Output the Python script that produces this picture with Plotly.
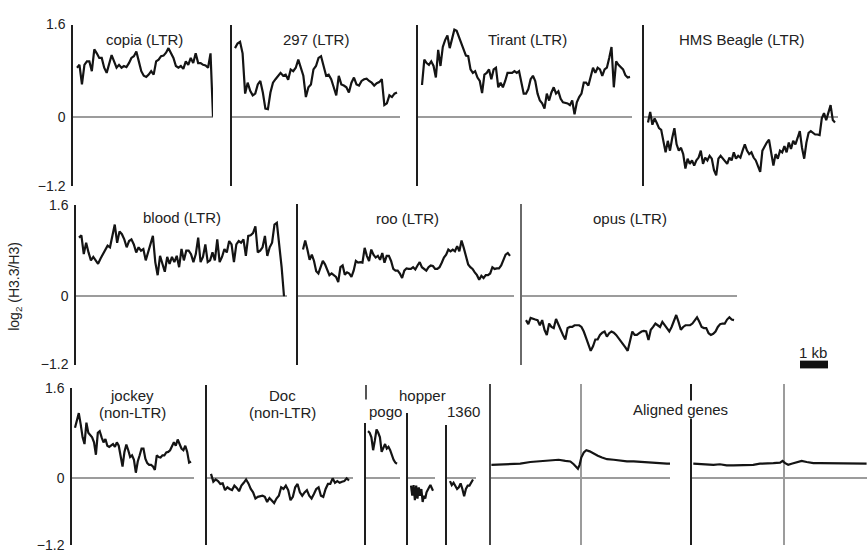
import plotly.graph_objects as go

W, H = 867, 560

# ---- log2(H3.3/H3) profiles along each transposable element (evenly spaced bins) ----
copia = [0.85, 0.90, 0.56, 0.90, 0.96, 0.96, 0.79, 1.17, 1.10, 1.02, 1.02, 0.85, 0.76, 0.90,
         1.07, 0.96, 0.85, 0.90, 0.85, 0.88, 0.86, 0.93, 1.02, 1.05, 1.13, 0.96, 0.79, 0.71,
         0.69, 0.73, 0.79, 0.73, 0.96, 0.99, 1.05, 1.06, 1.11, 1.19, 1.10, 1.02, 0.88, 0.85,
         0.88, 0.83, 0.96, 0.90, 1.02, 0.93, 1.10, 0.93, 0.93, 0.90, 0.89, 0.85, 1.10, 0.0]

el_297 = [1.19, 1.27, 1.30, 1.10, 0.40, 0.59, 0.45, 0.37, 0.40, 0.56, 0.62, 0.42, 0.14, 0.13,
          0.42, 0.59, 0.65, 0.71, 0.76, 0.71, 0.73, 0.64, 0.82, 0.79, 0.85, 0.99, 0.85, 0.71,
          0.34, 0.51, 0.56, 0.82, 0.88, 1.02, 1.05, 0.88, 0.71, 0.73, 0.65, 0.51, 0.37, 0.71,
          0.56, 0.54, 0.51, 0.42, 0.59, 0.68, 0.56, 0.54, 0.62, 0.65, 0.66, 0.62, 0.59, 0.54,
          0.58, 0.60, 0.65, 0.20, 0.23, 0.37, 0.34, 0.40, 0.42]

tirant = [0.55, 0.99, 0.93, 0.90, 0.96, 0.88, 0.68, 1.16, 0.88, 1.21, 1.33, 1.41, 1.19, 1.36,
          1.51, 1.49, 1.38, 1.30, 1.16, 1.06, 1.05, 0.82, 0.76, 0.79, 0.68, 0.62, 0.41, 0.73,
          0.76, 0.82, 0.65, 0.82, 0.85, 0.51, 0.59, 0.51, 0.62, 0.76, 0.76, 0.76, 0.79, 0.76,
          0.79, 0.59, 0.40, 0.40, 0.48, 0.65, 0.71, 0.62, 0.40, 0.28, 0.23, 0.14, 0.40, 0.28,
          0.42, 0.51, 0.40, 0.44, 0.31, 0.25, 0.24, 0.23, 0.20, 0.28, 0.04, 0.25, 0.34, 0.40,
          0.59, 0.59, 0.54, 0.68, 0.85, 0.76, 0.85, 0.82, 0.71, 0.82, 0.85, 1.02, 1.21, 0.51,
          0.96, 0.90, 0.85, 0.82, 0.72, 0.68, 0.69]

hms_beagle = [-0.10, 0.08, -0.14, -0.03, -0.11, -0.20, -0.23, -0.42, -0.62, -0.42, -0.59,
              -0.37, -0.20, -0.48, -0.59, -0.54, -0.65, -0.90, -0.73, -0.82, -0.76, -0.85,
              -0.76, -0.71, -0.59, -0.82, -0.71, -0.76, -0.68, -0.73, -0.93, -1.02, -0.73,
              -0.68, -0.73, -0.76, -0.82, -0.71, -0.76, -0.62, -0.73, -0.68, -0.71, -0.59,
              -0.48, -0.59, -0.65, -0.62, -0.71, -0.76, -0.85, -0.96, -0.59, -0.51, -0.45,
              -0.40, -0.62, -0.85, -0.65, -0.73, -0.59, -0.62, -0.51, -0.62, -0.45, -0.56,
              -0.42, -0.48, -0.37, -0.25, -0.54, -0.73, -0.45, -0.28, -0.25, -0.28, -0.31,
              -0.31, -0.32, -0.03, 0.06, -0.06, 0.08, 0.20, -0.06, -0.10]

blood = [1.03, 1.07, 0.74, 0.94, 0.77, 0.63, 0.69, 0.63, 0.57, 0.66, 0.74, 0.83, 0.89, 0.86,
         1.06, 1.26, 0.94, 1.14, 1.09, 1.00, 0.86, 0.97, 1.00, 0.91, 0.77, 0.86, 0.80, 0.83,
         0.63, 0.77, 0.89, 1.06, 0.60, 0.37, 0.71, 0.57, 0.43, 0.69, 0.57, 0.69, 0.60, 0.71,
         0.51, 0.83, 0.63, 0.80, 0.80, 0.74, 0.60, 0.74, 1.03, 0.60, 0.69, 0.91, 0.60, 0.63,
         0.77, 0.63, 1.00, 0.60, 0.69, 0.83, 0.77, 0.97, 0.91, 0.60, 0.91, 0.97, 0.94, 1.00,
         0.71, 1.06, 1.07, 1.11, 1.23, 0.77, 0.80, 0.86, 1.06, 0.71, 0.86, 0.94, 1.26, 1.29,
         0.91, 0.51, 0.0]

roo = [0.82, 0.98, 0.82, 0.64, 0.73, 0.62, 0.44, 0.40, 0.51, 0.62, 0.56, 0.45, 0.37, 0.40,
       0.37, 0.34, 0.25, 0.51, 0.54, 0.38, 0.42, 0.40, 0.34, 0.45, 0.62, 0.59, 0.60, 0.59,
       0.85, 0.71, 0.62, 0.82, 0.73, 0.68, 0.71, 0.64, 0.76, 0.59, 0.71, 0.71, 0.62, 0.48,
       0.45, 0.45, 0.40, 0.32, 0.45, 0.49, 0.48, 0.48, 0.51, 0.47, 0.54, 0.60, 0.51, 0.48,
       0.45, 0.51, 0.54, 0.53, 0.48, 0.48, 0.51, 0.59, 0.68, 0.73, 0.82, 0.79, 0.82, 0.79,
       0.88, 0.79, 0.98, 0.85, 0.68, 0.56, 0.51, 0.48, 0.42, 0.37, 0.29, 0.36, 0.32, 0.37,
       0.37, 0.40, 0.51, 0.48, 0.49, 0.49, 0.54, 0.65, 0.73, 0.76, 0.71]

opus = [-0.42, -0.49, -0.38, -0.40, -0.41, -0.42, -0.51, -0.42, -0.59, -0.68, -0.48, -0.54,
        -0.56, -0.40, -0.51, -0.59, -0.68, -0.76, -0.56, -0.54, -0.54, -0.51, -0.51, -0.51,
        -0.54, -0.62, -0.73, -0.85, -0.96, -0.88, -0.76, -0.76, -0.68, -0.64, -0.62, -0.71,
        -0.65, -0.62, -0.64, -0.68, -0.73, -0.79, -0.85, -0.90, -0.96, -0.76, -0.62, -0.68,
        -0.68, -0.65, -0.62, -0.61, -0.62, -0.77, -0.59, -0.54, -0.48, -0.51, -0.54, -0.45,
        -0.51, -0.56, -0.62, -0.54, -0.42, -0.33, -0.45, -0.59, -0.54, -0.51, -0.51, -0.51,
        -0.48, -0.42, -0.37, -0.45, -0.54, -0.56, -0.56, -0.65, -0.68, -0.66, -0.62, -0.54,
        -0.49, -0.48, -0.48, -0.41, -0.37, -0.41, -0.42]

jockey = [0.89, 1.01, 1.15, 0.95, 0.72, 0.60, 0.98, 0.80, 0.75, 0.72, 0.63, 0.41, 0.80, 0.83,
          0.72, 0.63, 0.69, 0.57, 0.55, 0.57, 0.60, 0.55, 0.63, 0.57, 0.34, 0.20, 0.46, 0.59,
          0.49, 0.37, 0.40, 0.32, 0.09, 0.29, 0.40, 0.52, 0.52, 0.34, 0.26, 0.23, 0.23, 0.20,
          0.14, 0.40, 0.37, 0.36, 0.40, 0.40, 0.45, 0.46, 0.49, 0.55, 0.63, 0.57, 0.68, 0.60,
          0.52, 0.49, 0.57, 0.46, 0.27, 0.29]

doc = [0.07, -0.07, -0.03, -0.06, -0.11, -0.10, -0.22, -0.17, -0.20, -0.22, -0.14, -0.18,
       -0.24, -0.14, -0.09, -0.03, -0.10, -0.20, -0.26, -0.37, -0.34, -0.33, -0.32, -0.34,
       -0.43, -0.36, -0.40, -0.45, -0.37, -0.32, -0.17, -0.20, -0.14, -0.22, -0.40, -0.34,
       -0.17, -0.11, -0.26, -0.32, -0.26, -0.22, -0.32, -0.37, -0.29, -0.20, -0.17, -0.32,
       -0.34, -0.20, -0.11, -0.11, -0.01, -0.09, -0.06, -0.09, -0.07, -0.06, -0.01, -0.05]

pogo = [0.83, 0.80, 0.72, 0.49, 0.66, 0.86, 0.80, 0.72, 0.46, 0.55, 0.60, 0.52, 0.55, 0.49,
        0.40, 0.32, 0.27, 0.25]

hopper_2 = [-0.14, -0.32, -0.13, -0.40, -0.14, -0.37, -0.17, -0.32, -0.20, -0.43, -0.32,
            -0.37, -0.26, -0.20, -0.17, -0.13, -0.20, -0.23]

el_1360 = [-0.06, -0.13, -0.09, -0.14, -0.20, -0.17, -0.10, -0.20, -0.33, -0.20, -0.14,
           -0.14, -0.09, -0.03]

# ---- aligned genes: position (kb) relative to the alignment point ----
genes_a_kb = [-3.20, -2.88, -2.52, -2.17, -1.81, -1.45, -1.10, -0.80, -0.56, -0.38, -0.26,
              -0.18, -0.11, -0.05, 0.01, 0.10, 0.19, 0.31, 0.45, 0.60, 0.75, 0.93, 1.17,
              1.40, 1.64, 1.88, 2.12, 2.36, 2.60, 2.83, 3.07, 3.19]
genes_a = [0.23, 0.24, 0.25, 0.25, 0.28, 0.29, 0.30, 0.32, 0.30, 0.29, 0.24, 0.20, 0.16,
           0.23, 0.36, 0.45, 0.49, 0.47, 0.43, 0.39, 0.36, 0.33, 0.32, 0.30, 0.29, 0.29,
           0.28, 0.28, 0.26, 0.26, 0.25, 0.25]

genes_b_kb = [-3.24, -3.00, -2.76, -2.52, -2.29, -2.05, -1.81, -1.57, -1.33, -1.10, -0.86,
              -0.62, -0.38, -0.14, -0.05, 0.04, 0.15, 0.27, 0.45, 0.63, 0.81, 1.05, 1.29,
              1.52, 1.76, 2.00, 2.24, 2.48, 2.71, 2.95]
genes_b = [0.25, 0.24, 0.24, 0.23, 0.24, 0.22, 0.22, 0.22, 0.22, 0.23, 0.25, 0.25, 0.26,
           0.27, 0.30, 0.26, 0.23, 0.25, 0.28, 0.30, 0.28, 0.26, 0.26, 0.26, 0.25, 0.26,
           0.25, 0.26, 0.25, 0.25]

tick_vals = [1.6, 0, -1.2]
tick_text = ["1.6", "0", "\u22121.2"]

# ---- layout geometry (pixels) ----
PX_PER_KB = 28
Y_MAX, Y_MIN = 1.6, -1.2
# each row: pixel of the 1.6 level and of the -1.2 level
rows = {
    1: dict(top=17.0, bottom=183.0),
    2: dict(top=203.0, bottom=367.0),
    3: dict(top=391.0, bottom=553.0),
}
for r in rows.values():
    r["ppu"] = (r["bottom"] - r["top"]) / (Y_MAX - Y_MIN)
    r["zero"] = r["top"] + Y_MAX * r["ppu"]

# element panels: axis x, end of zero line, first/last data x, top of axis line
panels = [
    dict(y=copia, row=1, ax=73, zx=213, d0=77, d1=213, top=17, labels=True),
    dict(y=el_297, row=1, ax=232, zx=400, d0=235, d1=397, top=17),
    dict(y=tirant, row=1, ax=418, zx=632, d0=422, d1=630, top=17),
    dict(y=hms_beagle, row=1, ax=644, zx=838, d0=648, d1=835, top=17),
    dict(y=blood, row=2, ax=76, zx=287, d0=79, d1=284, top=203, labels=True),
    dict(y=roo, row=2, ax=298, zx=514, d0=303, d1=510, top=202),
    dict(y=opus, row=2, ax=522, zx=737, d0=526, d1=734, top=202, axcolor="#6a6a6a"),
    dict(y=jockey, row=3, ax=72, zx=194, d0=75, d1=191, top=391, labels=True),
    dict(y=doc, row=3, ax=207, zx=353, d0=211, d1=349, top=388),
    dict(y=pogo, row=3, ax=366, zx=400, d0=368, d1=397, top=427),
    dict(y=hopper_2, row=3, ax=408, zx=435, d0=411, d1=433, top=417),
    dict(y=el_1360, row=3, ax=447, zx=476, d0=450, d1=473, top=429),
]
# aligned-gene panels: x in kb, vertical reference line at the alignment point
gene_panels = [
    dict(x=genes_a_kb, y=genes_a, row=3, ax=491, zx=670, center=581, top=387, axcolor="#444"),
    dict(x=genes_b_kb, y=genes_b, row=3, ax=692, zx=867, center=784, top=387),
]

FONT = "Liberation Sans, Arial, Helvetica, sans-serif"
LINE = "#141414"
GRAY = "#9c9c9c"

fig = go.Figure()
layout = {}


def add_axes(i, p, xrange, xzero):
    r = rows[p["row"]]
    ytop = (r["zero"] - p["top"]) / r["ppu"]
    xa = "xaxis" if i == 1 else f"xaxis{i}"
    ya = "yaxis" if i == 1 else f"yaxis{i}"
    layout[xa] = dict(domain=[p["ax"] / W, p["zx"] / W], range=xrange, anchor=f"y{i}",
                      showgrid=False, showticklabels=False, ticks="", showline=False,
                      zeroline=xzero, zerolinecolor=GRAY, zerolinewidth=1.5, fixedrange=True)
    ya_dict = dict(domain=[1 - r["bottom"] / H, 1 - p["top"] / H],
                   range=[Y_MIN - 1e-4, ytop + 1e-4], anchor=f"x{i}",
                   showgrid=False, zeroline=True, zerolinecolor=GRAY, zerolinewidth=1.5,
                   showline=True, linecolor=p.get("axcolor", "#1e1e1e"), linewidth=1.5,
                   ticks="", fixedrange=True)
    if p.get("labels"):
        ya_dict.update(tickvals=tick_vals, ticktext=tick_text, ticklabelstandoff=3,
                       tickfont=dict(family=FONT, size=14, color="#222"))
    else:
        ya_dict.update(showticklabels=False)
    layout[ya] = ya_dict


idx = 0
for p in panels:
    idx += 1
    n = len(p["y"])
    step = (p["d1"] - p["d0"]) / (n - 1)
    xrange = [(p["ax"] - p["d0"]) / step, (n - 1) + (p["zx"] - p["d1"]) / step]
    add_axes(idx, p, xrange, False)
    fig.add_trace(go.Scatter(x=list(range(n)), y=p["y"], mode="lines",
                             line=dict(color=LINE, width=2.2),
                             xaxis=f"x{idx}", yaxis=f"y{idx}", hoverinfo="skip"))

for g in gene_panels:
    idx += 1
    xrange = [(g["ax"] - g["center"]) / PX_PER_KB, (g["zx"] - g["center"]) / PX_PER_KB]
    add_axes(idx, g, xrange, True)
    fig.add_trace(go.Scatter(x=g["x"], y=g["y"], mode="lines",
                             line=dict(color=LINE, width=2.2),
                             xaxis=f"x{idx}", yaxis=f"y{idx}", hoverinfo="skip"))


def px(x, y):
    return x / W, 1 - y / H


annotations = []


def label(text, cx, cy, size=15, bg=None):
    x, y = px(cx, cy)
    a = dict(text=text, x=x, y=y, xref="paper", yref="paper", xanchor="center",
             yanchor="middle", showarrow=False, font=dict(family=FONT, size=size, color="#222"))
    if bg:
        a["bgcolor"] = bg
        a["borderpad"] = 0
    annotations.append(a)


label("copia (LTR)", 144, 32)
label("297 (LTR)", 316, 32)
label("Tirant (LTR)", 527, 32)
label("HMS Beagle (LTR)", 742, 32)
label("blood (LTR)", 182, 216)
label("roo (LTR)", 407, 217)
label("opus (LTR)", 630, 217)
label("jockey", 132, 399)
label("(non-LTR)", 132, 416)
label("Doc", 282, 399)
label("(non-LTR)", 282, 416)
label("hopper", 422, 399)
label("pogo", 385, 415)
label("1360", 463, 415)
label("Aligned genes", 680, 413, bg="white")
label("1 kb", 813, 355)

# y-axis title shared by all rows
tx, ty = px(15, 287)
annotations.append(dict(text="log<sub>2</sub> (H3.3/H3)", x=tx, y=ty, xref="paper", yref="paper",
                        xanchor="center", yanchor="middle", textangle=-90, showarrow=False,
                        font=dict(family=FONT, size=14, color="#222")))

shapes = []
# bracket stub above the hopper group
x0, y0 = px(366, 388)
x1, y1 = px(366, 403)
shapes.append(dict(type="line", xref="paper", yref="paper", x0=x0, y0=y0, x1=x1, y1=y1,
                   line=dict(color="#1e1e1e", width=1.5)))
# 1 kb scale bar
bx0, by0 = px(800, 363)
bx1, by1 = px(800 + PX_PER_KB, 371)
shapes.append(dict(type="rect", xref="paper", yref="paper", x0=bx0, y0=by1, x1=bx1, y1=by0,
                   fillcolor="#111", line=dict(width=0)))

fig.update_layout(
    width=W, height=H,
    margin=dict(l=0, r=0, t=0, b=0),
    paper_bgcolor="white", plot_bgcolor="rgba(0,0,0,0)",
    showlegend=False,
    annotations=annotations,
    shapes=shapes,
    **layout,
)

fig.write_html("out.html", config={"displayModeBar": False})
